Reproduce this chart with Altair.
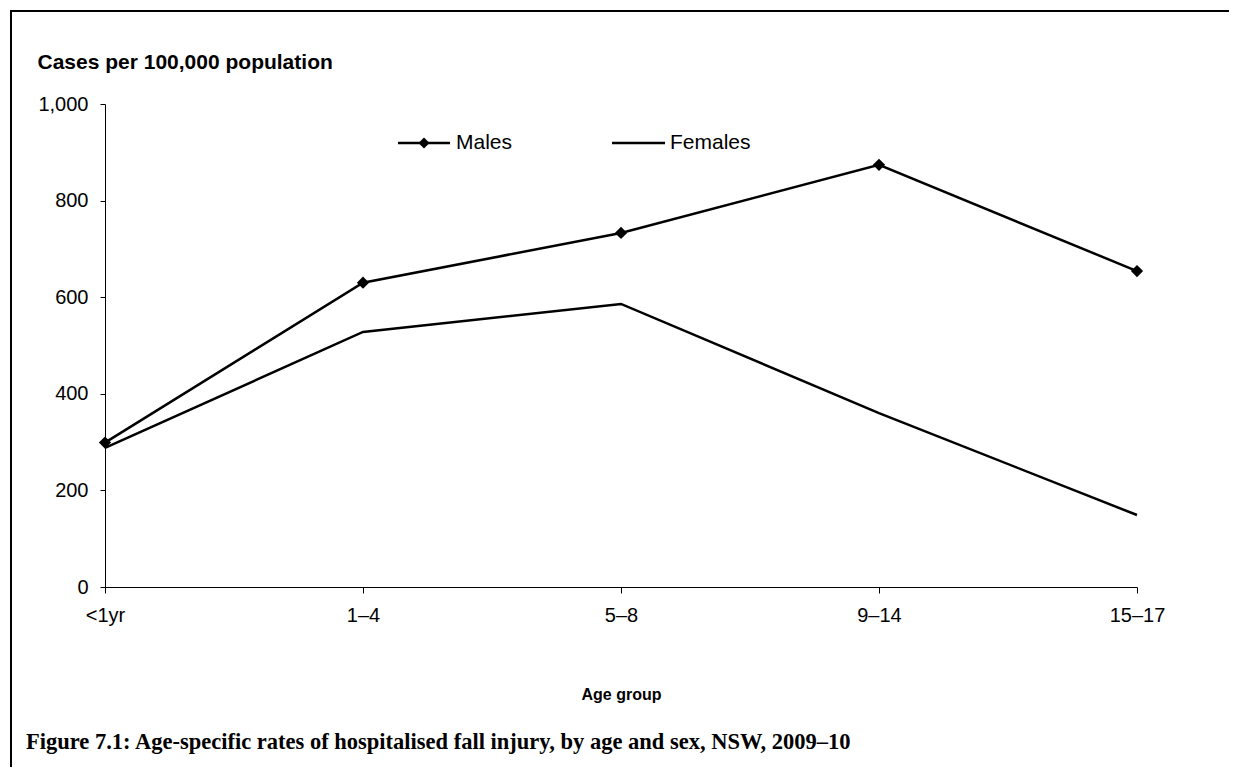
import altair as alt
import pandas as pd

ages = ["<1yr", "1–4", "5–8", "9–14", "15–17"]
males = [299, 630, 733, 874, 654]
females = [288, 528, 586, 360, 149]

y_title = "Cases per 100,000 population"
x_title = "Age group"
fig_title = "Figure 7.1: Age-specific rates of hospitalised fall injury, by age and sex, NSW, 2009–10"
legend_labels = ["Males", "Females"]

df = pd.DataFrame({
    "age": ages * 2,
    "rate": males + females,
    "sex": ["Males"] * len(ages) + ["Females"] * len(ages),
})

FONT = "Liberation Sans"
W, H = 1032, 483

x_axis = alt.Axis(title=x_title, labelAngle=0, labelFont=FONT, labelFontSize=20,
                  labelColor="black", labelPadding=12, tickSize=6, tickColor="black",
                  domainColor="black", domainWidth=1, tickWidth=1,
                  titleFont=FONT, titleFontSize=16, titleFontWeight="bold",
                  titleColor="black", titleY=112, titleBaseline="alphabetic")
y_axis = alt.Axis(title=y_title, values=[0, 200, 400, 600, 800, 1000], format=",.0f",
                  grid=False, labelFont=FONT, labelFontSize=20, labelColor="black",
                  labelPadding=12, tickSize=5, tickColor="black", domainColor="black",
                  domainWidth=1, tickWidth=1,
                  titleFont=FONT, titleFontSize=21, titleFontWeight="bold",
                  titleColor="black", titleAngle=0, titleAlign="left",
                  titleBaseline="alphabetic", titleX=-68, titleY=-36)

x_scale = alt.Scale(type="point", padding=0)
y_scale = alt.Scale(domain=[0, 1000], nice=False)

lines = alt.Chart(df).mark_line(color="black", strokeWidth=2.5).encode(
    x=alt.X("age:N", sort=ages, scale=x_scale, axis=x_axis),
    y=alt.Y("rate:Q", scale=y_scale, axis=y_axis),
    detail="sex:N")
pts = alt.Chart(df[df["sex"] == "Males"]).mark_point(
    shape="diamond", filled=True, color="black", size=150, opacity=1).encode(
    x=alt.X("age:N", sort=ages, scale=x_scale, axis=None),
    y=alt.Y("rate:Q", scale=y_scale, axis=None))

# frame: left and top edges as one path (pixel coordinates, no scale)
frame = alt.Chart(alt.Data(values=[
    {"i": 0, "px": -94, "py": 676},
    {"i": 1, "px": -94, "py": -93},
    {"i": 2, "px": 1126, "py": -93},
])).mark_line(color="black", strokeWidth=2, strokeCap="square").encode(
    x=alt.X("px:Q", scale=None, axis=None),
    y=alt.Y("py:Q", scale=None, axis=None),
    order=alt.Order("i:Q"))

one = alt.Data(values=[{"legend": 1}])
leg_m_line = alt.Chart(one).mark_rule(color="black", strokeWidth=2.5).encode(
    x=alt.value(293), x2=alt.value(345), y=alt.value(39))
leg_m_pt = alt.Chart(one).mark_point(shape="diamond", filled=True, color="black",
                                     size=120, opacity=1).encode(
    x=alt.value(319), y=alt.value(39))
leg_m_txt = alt.Chart(one).mark_text(text=legend_labels[0], font=FONT, fontSize=21,
                                     align="left", baseline="middle", color="black").encode(
    x=alt.value(351), y=alt.value(39))
leg_f_line = alt.Chart(one).mark_rule(color="black", strokeWidth=2.5).encode(
    x=alt.value(507), x2=alt.value(560), y=alt.value(39))
leg_f_txt = alt.Chart(one).mark_text(text=legend_labels[1], font=FONT, fontSize=21,
                                     align="left", baseline="middle", color="black").encode(
    x=alt.value(565), y=alt.value(39))

fig_txt = alt.Chart(alt.Data(values=[{"caption": 1}])).mark_text(
    text=fig_title, font="Liberation Serif", fontSize=22.5,
    fontWeight="bold", align="left", baseline="alphabetic", color="black").encode(
    x=alt.value(-79), y=alt.value(645))

chart = alt.layer(
    frame, lines, pts,
    leg_m_line, leg_m_pt, leg_m_txt, leg_f_line, leg_f_txt, fig_txt
).resolve_scale(
    x="independent", y="independent"
).properties(
    width=W, height=H,
    autosize=alt.AutoSizeParams(type="none"),
    padding={"left": 97, "top": 96, "right": 92, "bottom": 180},
    background="white",
).configure_view(strokeWidth=0)

chart.save("out.html", embed_options={"renderer": "svg", "actions": False})
